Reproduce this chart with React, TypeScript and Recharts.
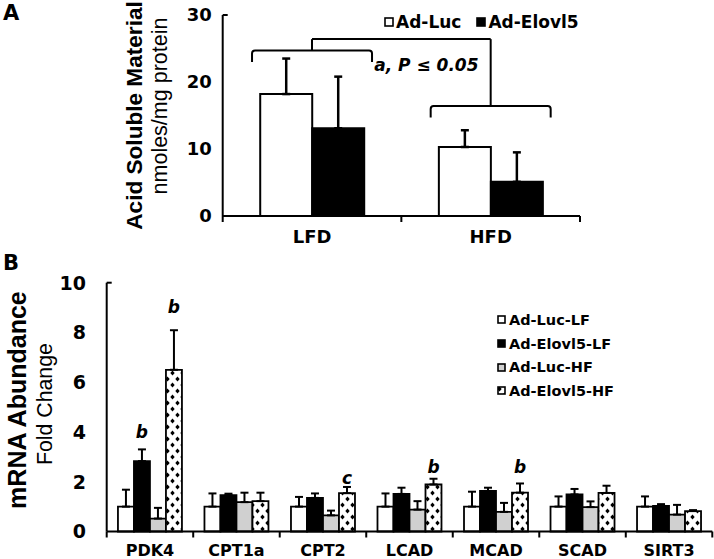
import React from 'react';
import { BarChart, Bar, XAxis, YAxis, ErrorBar, ReferenceLine, Legend, LabelList } from 'recharts';

const FONT = '"DejaVu Sans", Verdana, sans-serif';
const TITLE_FONT = '"Liberation Sans", Arial, sans-serif';

// ---------- Panel A data ----------
const dietCategories = ['LFD', 'HFD'];
const adLucValues = [18.2, 10.3];
const adLucErrors = [5.3, 2.5];
const adElovl5Values = [13.1, 5.1];
const adElovl5Errors = [7.7, 4.4];
const panelATicks = [0, 10, 20, 30];
const panelASeries = ['Ad-Luc', 'Ad-Elovl5'];
const bracketCategories = ['LFD', 'HFD'];
const bracketTips = [24.7, 16.4];
const bracketEnds = [23.0, 14.7];
const connectorLevel = 26.4;
const significanceLabel = 'a, P ≤ 0.05';
const significanceLevel = 21.6;

// ---------- Panel B data ----------
const genes = ['PDK4', 'CPT1a', 'CPT2', 'LCAD', 'MCAD', 'SCAD', 'SIRT3'];
const lucLF = [1.0, 1.0, 1.0, 1.0, 1.0, 1.0, 1.0];
const lucLFErr = [0.68, 0.53, 0.39, 0.53, 0.6, 0.41, 0.41];
const elovlLF = [2.83, 1.46, 1.35, 1.51, 1.63, 1.49, 1.03];
const elovlLFErr = [0.47, 0.06, 0.18, 0.25, 0.13, 0.22, 0.07];
const lucHF = [0.52, 1.18, 0.65, 0.88, 0.79, 0.98, 0.68];
const lucHFErr = [0.43, 0.38, 0.19, 0.34, 0.36, 0.23, 0.39];
const elovlHF = [6.5, 1.22, 1.54, 1.89, 1.56, 1.55, 0.82];
const elovlHFErr = [1.59, 0.34, 0.25, 0.23, 0.37, 0.29, 0.04];
const panelBTicks = [0, 2, 4, 6, 8, 10];
const panelBSeries = ['Ad-Luc-LF', 'Ad-Elovl5-LF', 'Ad-Luc-HF', 'Ad-Elovl5-HF'];
const elovlLFNotes = ['b', '', '', '', '', '', ''];
const elovlLFNoteLevels = [3.75, 0, 0, 0, 0, 0, 0];
const elovlHFNotes = ['b', '', 'c', 'b', 'b', '', ''];
const elovlHFNoteLevels = [8.79, 0, 1.92, 2.36, 2.34, 0, 0];

// ---------- derived tables ----------
const dataA = dietCategories.map((cat, i) => ({
  cat,
  luc: adLucValues[i],
  lucErr: [0, adLucErrors[i]],
  elovl: adElovl5Values[i],
  elovlErr: [0, adElovl5Errors[i]],
}));

const dataB = genes.map((gene, i) => ({
  gene,
  lucLF: lucLF[i],
  lucLFErr: [0, lucLFErr[i]],
  elovlLF: elovlLF[i],
  elovlLFErr: [0, elovlLFErr[i]],
  lucHF: lucHF[i],
  lucHFErr: [0, lucHFErr[i]],
  elovlHF: elovlHF[i],
  elovlHFErr: [0, elovlHFErr[i]],
}));

const PATTERN_ID = 'diamondDots';
const seriesAFill = ['#ffffff', '#000000'];
const seriesBFill = ['#ffffff', '#000000', '#d0d0d0', `url(#${PATTERN_ID})`];

const AXIS = { stroke: '#000', strokeWidth: 2 };
const X_TICK_SIZE = 6;
const X_TICK_MARGIN = 2;

const makeXTick = (count: number, baseline: number, fontSize: number) => (props: any) => {
  const { x, y, payload, index } = props;
  const axisY = Number(y) - X_TICK_SIZE - X_TICK_MARGIN;
  const half = payload && payload.offset ? Number(payload.offset) : 0;
  return (
    <g>
      <line x1={x - half} x2={x - half} y1={axisY} y2={axisY + 6} stroke="#000" strokeWidth={2} />
      {index === count - 1 && (
        <line x1={x + half} x2={x + half} y1={axisY} y2={axisY + 6} stroke="#000" strokeWidth={2} />
      )}
      <text x={x} y={axisY + baseline} textAnchor="middle" fontFamily={FONT} fontWeight="bold" fontSize={fontSize} fill="#000">
        {payload.value}
      </text>
    </g>
  );
};

const makeYTick = (max: number, gap: number, fontSize: number) => (props: any) => {
  const { x, y, payload } = props;
  const axisX = Number(x) + gap;
  return (
    <g>
      {payload.value === max && <line x1={axisX} x2={axisX + 5} y1={y} y2={y} stroke="#000" strokeWidth={2} />}
      <text x={x} y={y} dy="0.36em" textAnchor="end" fontFamily={FONT} fontWeight="bold" fontSize={fontSize} fill="#000">
        {payload.value}
      </text>
    </g>
  );
};

const makeTitles = (
  main: string, mainSize: number, mainDx: number, mainDy: number,
  sub: string, subSize: number, subDx: number, subDy: number
) => (props: any) => {
  const vb = props.viewBox || {};
  const cy = vb.y + vb.height / 2;
  const x1 = vb.x + mainDx;
  const y1 = cy + mainDy;
  const x2 = vb.x + subDx;
  const y2 = cy + subDy;
  return (
    <g>
      <text x={x1} y={y1} transform={`rotate(-90, ${x1}, ${y1})`} textAnchor="middle" dominantBaseline="central"
        fontFamily={TITLE_FONT} fontWeight="bold" fontSize={mainSize} fill="#000">{main}</text>
      <text x={x2} y={y2} transform={`rotate(-90, ${x2}, ${y2})`} textAnchor="middle" dominantBaseline="central"
        fontFamily={TITLE_FONT} fontSize={subSize} fill="#000">{sub}</text>
    </g>
  );
};

const BRACE_HALF = 60;
const braceShape = (props: any) => {
  const { x1, y1, y2 } = props;
  const cx = Number(x1);
  const tip = Number(y1);
  const end = Number(y2);
  const r = 3;
  const d = `M${cx - BRACE_HALF},${end} L${cx - BRACE_HALF},${tip + r} Q${cx - BRACE_HALF},${tip} ${cx - BRACE_HALF + r},${tip}
    L${cx + BRACE_HALF - r},${tip} Q${cx + BRACE_HALF},${tip} ${cx + BRACE_HALF},${tip + r} L${cx + BRACE_HALF},${end}`;
  return <path d={d} fill="none" stroke="#000" strokeWidth={2} />;
};

const significanceShape = (props: any) => {
  const { x1, x2, y1 } = props;
  const cx = (Number(x1) + Number(x2)) / 2 + 25;
  return (
    <text x={cx} y={y1} textAnchor="middle" fontFamily={FONT} fontWeight="bold" fontStyle="italic" fontSize={17} fill="#000">
      {significanceLabel}
    </text>
  );
};

const makeNote = (notes: string[], levels: number[]) => (props: any) => {
  const { x, y, width, height, value, index } = props;
  const text = notes[index];
  if (!text) return null;
  const base = Number(y) + Number(height);
  const perUnit = Number(height) / Number(value);
  const ty = base - levels[index] * perUnit;
  return (
    <text x={Number(x) + Number(width) / 2} y={ty} textAnchor="middle" fontFamily={FONT} fontWeight="bold"
      fontStyle="italic" fontSize={17} fill="#000">{text}</text>
  );
};

const Swatch = ({ fill, size }: { fill: string; size: number }) => (
  <svg width={size} height={size} style={{ display: 'block' }}>
    <rect x={1} y={1} width={size - 2} height={size - 2} fill={fill} stroke="#000" strokeWidth={1.6} />
  </svg>
);

const LegendA = () => (
  <div style={{ display: 'flex', alignItems: 'center', fontFamily: FONT, fontWeight: 'bold', fontSize: 17, lineHeight: '20px', color: '#000' }}>
    {panelASeries.map((name, i) => (
      <div key={name} style={{ display: 'flex', alignItems: 'center', marginRight: i === 0 ? 15 : 0 }}>
        <Swatch fill={seriesAFill[i]} size={10} />
        <span style={{ marginLeft: 2, whiteSpace: 'nowrap' }}>{name}</span>
      </div>
    ))}
  </div>
);

const LegendB = () => (
  <div style={{ fontFamily: FONT, fontWeight: 'bold', fontSize: 14.5, color: '#000' }}>
    {panelBSeries.map((name, i) => (
      <div key={name} style={{ display: 'flex', alignItems: 'center', height: 23.6 }}>
        <Swatch fill={seriesBFill[i]} size={9} />
        <span style={{ marginLeft: 3, whiteSpace: 'nowrap' }}>{name}</span>
      </div>
    ))}
  </div>
);

const PanelA = () => (
  <BarChart width={714} height={250} data={dataA} margin={{ top: 15, right: 134, left: 122.7, bottom: 4 }}
    barCategoryGap="21%" barGap={0}>
    <XAxis dataKey="cat" height={30} axisLine={AXIS} tickLine={false} tickSize={X_TICK_SIZE} tickMargin={X_TICK_MARGIN}
      interval={0} tick={makeXTick(dietCategories.length, 27.3, 18)} />
    <YAxis width={100} domain={[0, 30]} ticks={panelATicks} axisLine={AXIS} tickLine={false} tickSize={0} tickMargin={11}
      tick={makeYTick(30, 11, 18)}
      label={{ content: makeTitles('Acid Soluble Material', 22.6, 11.3, 0, 'nmoles/mg protein', 21.5, 37.3, -9.5) }} />
    <Legend layout="vertical" align="center" verticalAlign="middle"
      wrapperStyle={{ left: 384, top: 11.7, width: 'auto', height: 'auto' }} content={() => <LegendA />} />
    <Bar dataKey="luc" name={panelASeries[0]} fill={seriesAFill[0]} stroke="#000" strokeWidth={2} isAnimationActive={false}>
      <ErrorBar dataKey="lucErr" width={4} stroke="#000" strokeWidth={2.5} />
    </Bar>
    <Bar dataKey="elovl" name={panelASeries[1]} fill={seriesAFill[1]} stroke="#000" strokeWidth={2} isAnimationActive={false}>
      <ErrorBar dataKey="elovlErr" width={4} stroke="#000" strokeWidth={2.5} />
    </Bar>
    {bracketCategories.map((c, i) => (
      <ReferenceLine key={`brace-${c}`} segment={[{ x: c, y: bracketTips[i] }, { x: c, y: bracketEnds[i] }]}
        shape={braceShape} ifOverflow="visible" />
    ))}
    <ReferenceLine segment={[{ x: bracketCategories[0], y: bracketTips[0] }, { x: bracketCategories[0], y: connectorLevel }]}
      stroke="#000" strokeWidth={2} ifOverflow="visible" />
    <ReferenceLine segment={[{ x: bracketCategories[0], y: connectorLevel }, { x: bracketCategories[1], y: connectorLevel }]}
      stroke="#000" strokeWidth={2} ifOverflow="visible" />
    <ReferenceLine segment={[{ x: bracketCategories[1], y: connectorLevel }, { x: bracketCategories[1], y: bracketTips[1] }]}
      stroke="#000" strokeWidth={2} ifOverflow="visible" />
    <ReferenceLine segment={[{ x: dietCategories[0], y: significanceLevel }, { x: dietCategories[1], y: significanceLevel }]}
      shape={significanceShape} ifOverflow="visible" />
  </BarChart>
);

const PanelB = () => (
  <BarChart width={714} height={309} data={dataB} margin={{ top: 32.7, right: 1.7, left: 6.7, bottom: 0 }}
    barCategoryGap="13%" barGap={0}>
    <defs>
      <pattern id={PATTERN_ID} width="10" height="12" patternUnits="userSpaceOnUse">
        <rect width="10" height="12" fill="#fff" />
        <path d="M2.5,0.6 L4.7,3 L2.5,5.4 L0.3,3 Z M7.5,6.6 L9.7,9 L7.5,11.4 L5.3,9 Z" fill="#000" />
      </pattern>
    </defs>
    <XAxis dataKey="gene" height={27.5} axisLine={AXIS} tickLine={false} tickSize={X_TICK_SIZE} tickMargin={X_TICK_MARGIN}
      interval={0} tick={makeXTick(genes.length, 24.5, 16)} />
    <YAxis width={100} domain={[0, 10]} ticks={panelBTicks} axisLine={AXIS} tickLine={false} tickSize={0} tickMargin={20.7}
      tick={makeYTick(10, 20.7, 19)}
      label={{ content: makeTitles('mRNA Abundance', 25, 10.3, -7, 'Fold Change', 21.3, 38.3, -3) }} />
    <Legend layout="vertical" align="center" verticalAlign="middle"
      wrapperStyle={{ left: 497, top: 58.2, width: 'auto', height: 'auto' }} content={() => <LegendB />} />
    <Bar dataKey="lucLF" name={panelBSeries[0]} fill={seriesBFill[0]} stroke="#000" strokeWidth={1.8} isAnimationActive={false}>
      <ErrorBar dataKey="lucLFErr" width={4} stroke="#000" strokeWidth={2} />
    </Bar>
    <Bar dataKey="elovlLF" name={panelBSeries[1]} fill={seriesBFill[1]} stroke="#000" strokeWidth={1.8} isAnimationActive={false}>
      <ErrorBar dataKey="elovlLFErr" width={4} stroke="#000" strokeWidth={2} />
      <LabelList dataKey="elovlLF" content={makeNote(elovlLFNotes, elovlLFNoteLevels)} />
    </Bar>
    <Bar dataKey="lucHF" name={panelBSeries[2]} fill={seriesBFill[2]} stroke="#000" strokeWidth={1.8} isAnimationActive={false}>
      <ErrorBar dataKey="lucHFErr" width={4} stroke="#000" strokeWidth={2} />
    </Bar>
    <Bar dataKey="elovlHF" name={panelBSeries[3]} fill={seriesBFill[3]} stroke="#000" strokeWidth={1.8} isAnimationActive={false}>
      <ErrorBar dataKey="elovlHFErr" width={4} stroke="#000" strokeWidth={2} />
      <LabelList dataKey="elovlHF" content={makeNote(elovlHFNotes, elovlHFNoteLevels)} />
    </Bar>
  </BarChart>
);

const PanelLabel = ({ text, left, top }: { text: string; left: number; top: number }) => (
  <div style={{ position: 'absolute', left, top, fontFamily: FONT, fontWeight: 'bold', fontSize: 21, lineHeight: '21px', color: '#000' }}>
    {text}
  </div>
);

export default function App() {
  return (
    <div style={{ position: 'absolute', left: 0, top: 0, width: 714, height: 559, background: '#fff', overflow: 'hidden' }}>
      <div style={{ position: 'absolute', left: 0, top: 0 }}>
        <PanelA />
      </div>
      <div style={{ position: 'absolute', left: 0, top: 250 }}>
        <PanelB />
      </div>
      <PanelLabel text="A" left={3} top={3} />
      <PanelLabel text="B" left={3} top={253} />
    </div>
  );
}
